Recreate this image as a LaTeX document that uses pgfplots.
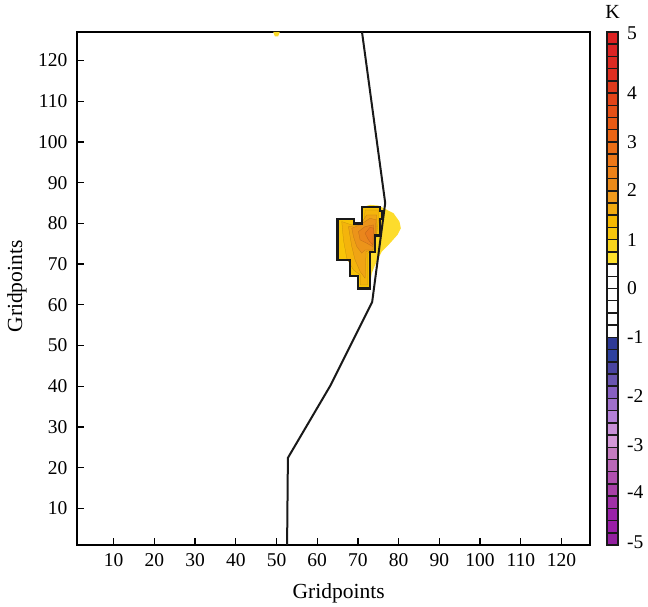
\documentclass[border=0pt]{standalone}
\usepackage{pgfplots}
\usepackage{fontspec}
\setmainfont{Liberation Serif}
\pgfplotsset{compat=1.18}
\definecolor{lva}{HTML}{FDDC2C}
\definecolor{lvb}{HTML}{F8C408}
\definecolor{lvc}{HTML}{F4B40C}
\definecolor{lvd}{HTML}{F0A414}
\definecolor{lve}{HTML}{EC941A}
\definecolor{lvf}{HTML}{EA861C}
\definecolor{lvg}{HTML}{E97C1C}
\definecolor{cbA}{HTML}{DD2222}\definecolor{cbB}{HTML}{DD2424}\definecolor{cbC}{HTML}{DD2A22}\definecolor{cbD}{HTML}{DE2E20}
\definecolor{cbE}{HTML}{E03A1C}\definecolor{cbF}{HTML}{E24418}\definecolor{cbG}{HTML}{E55016}\definecolor{cbH}{HTML}{E85A14}
\definecolor{cbI}{HTML}{EA6414}\definecolor{cbJ}{HTML}{EC6E16}\definecolor{cbK}{HTML}{EE7818}\definecolor{cbL}{HTML}{EE8218}
\definecolor{cbM}{HTML}{EA8A1A}\definecolor{cbN}{HTML}{F09A1C}\definecolor{cbO}{HTML}{F2AA10}\definecolor{cbP}{HTML}{F6B800}
\definecolor{cbQ}{HTML}{F8C60C}\definecolor{cbR}{HTML}{F8D41C}\definecolor{cbS}{HTML}{FDE02C}
\definecolor{cdA}{HTML}{2E3A96}\definecolor{cdB}{HTML}{2E419E}\definecolor{cdC}{HTML}{4A44A0}\definecolor{cdD}{HTML}{6A55B0}
\definecolor{cdE}{HTML}{8860C2}\definecolor{cdF}{HTML}{A070CC}\definecolor{cdG}{HTML}{B480D8}\definecolor{cdH}{HTML}{C890D8}
\definecolor{cdI}{HTML}{D498D8}\definecolor{cdJ}{HTML}{C47CC0}\definecolor{cdK}{HTML}{BA68B8}\definecolor{cdL}{HTML}{B050B0}
\definecolor{cdM}{HTML}{A840A8}\definecolor{cdN}{HTML}{A030A8}\definecolor{cdO}{HTML}{9A22A8}\definecolor{cdP}{HTML}{9A1EA8}\definecolor{cdQ}{HTML}{9420A0}
\newcommand{\cell}[3]{\addplot[fill=#3,draw=black!90,line width=1.5pt] coordinates {(0,#1)(1,#1)(1,#2)(0,#2)} --cycle;}
\begin{document}
\begin{tikzpicture}[x=1pt,y=1pt]
\path[use as bounding box] (0,0) rectangle (648pt,607pt);
\begin{axis}[
  at={(77pt,62pt)},anchor=south west,
  scale only axis,width=513pt,height=513pt,
  xmin=1,xmax=127,ymin=1,ymax=127,
  xtick={10,20,...,120},ytick={10,20,...,120},
  tick align=inside,xtick pos=bottom,ytick pos=left,
  major tick length=7pt,
  axis line style={line width=1.6pt},
  tick style={line width=1.4pt,black},
  /pgf/number format/assume math mode=true,
  tick label style={font=\fontsize{19.5}{21}\selectfont},
  label style={font=\fontsize{21.5}{24}\selectfont},
  xticklabel style={yshift=-5pt},
  yticklabel style={xshift=-6pt},
  xlabel={Gridpoints},ylabel={Gridpoints},
  xlabel style={at={(axis description cs:0.51,0)},anchor=center,yshift=-48pt},
  ylabel style={at={(axis description cs:0,0.504)},anchor=center,rotate=0,yshift=60pt},
]
% small patch at the top
\addplot[fill=lva,draw=none] coordinates {(49.2,127)(50.8,127)(50.4,125.9)(49.6,125.9)} --cycle;
% outer yellow area
\addplot[fill=lva,draw=none] coordinates {(70.94,83.96)(72.99,84.53)(75.04,84.37)(76.68,83.55)(78.73,82.49)(80.2,80.44)(80.53,78.8)(79.7,77.16)(77.5,74.7)(75.86,73.07)(75.04,71.43)(74.22,69.79)(73.4,67.75)(72.83,64.06)(70.5,67.75)} --cycle;
% significant region filled, then nested contours
\addplot[fill=lvb,draw=none] coordinates {(65,81)(69,81)(69,80)(71,80)(71,84)(75.4,84)(75.4,83)(76,83)(76,81)(75.4,81)(75.4,77)(74.2,77)(74.2,73)(73,73)(73,64)(70,64)(70,67)(68,67)(68,71)(65,71)} --cycle;
\addplot[fill=lvc,draw=lvc!80!black,line width=0.25pt] coordinates {(66.03,80.44)(68.49,79.62)(71.5,79.7)(71.76,83.3)(75.04,83.3)(75.04,80.85)(74.63,77.57)(73.81,73.48)(72.34,72.66)(72.34,64.88)(70.54,64.88)(70.54,67.34)(68.9,68.56)(67.26,71.43)(66.44,75.94)} --cycle;
\addplot[fill=lvd,draw=lvd!80!black,line width=0.25pt] coordinates {(67.67,79.21)(70.54,79.62)(72.17,82.08)(74.63,82.08)(74.47,77.57)(73.4,73.48)(72.01,73.07)(71.76,66.52)(70.54,68.16)(69.3,71.02)(68.49,74.3)} --cycle;
\addplot[fill=lve,draw=lve!80!black,line width=0.25pt] coordinates {(68.49,78.8)(70.54,79.62)(72.99,81.26)(74.47,80.85)(74.22,77.57)(73.65,73.48)(71.76,73.48)(70.94,72.66)(69.72,74.3)(68.9,76.75)} --cycle;
\addplot[fill=lvf,draw=lvf!80!black,line width=0.25pt] coordinates {(70.13,77.98)(71.76,79.21)(73.81,79.62)(73.97,77.57)(73.65,74.3)(72.17,75.12)(70.54,75.94)} --cycle;
\addplot[fill=lvg,draw=lvg!80!black,line width=0.25pt] coordinates {(71.76,77.57)(72.99,79.05)(73.81,78.8)(73.65,74.71)(72.58,75.94)} --cycle;
% boundary of the marked region
\addplot[draw=black!90,line width=2.3pt] coordinates {(65,81)(69,81)(69,80)(71,80)(71,84)(75.4,84)(75.4,83)(76,83)(76,81)(75.4,81)(75.4,77)(74.2,77)(74.2,73)(73,73)(73,64)(70,64)(70,67)(68,67)(68,71)(65,71)} --cycle;
% line
\addplot[draw=black!90,line width=2pt] coordinates {(52.6,1)(52.8,22.4)(63.2,40.1)(73.5,60.7)(76.7,85)(71,127)};
\end{axis}
\begin{axis}[
  at={(607pt,62pt)},anchor=south west,
  scale only axis,width=11pt,height=513pt,
  xmin=0,xmax=1,ymin=0,ymax=42,
  xtick=\empty,
  ytick={41.9,37,33,29.1,25,21,17,12.2,8.2,4.3,0.25},
  yticklabels={5,4,3,2,1,0,-1,-2,-3,-4,-5},
  ytick pos=right,major tick length=0pt,
  axis line style={line width=1.5pt},
  /pgf/number format/assume math mode=true,
  yticklabel style={font=\fontsize{19.5}{21}\selectfont,anchor=west,xshift=5.5pt},
  clip=false,
]
\cell{41}{42}{cbA}\cell{40}{41}{cbB}\cell{39}{40}{cbC}\cell{38}{39}{cbD}\cell{37}{38}{cbE}
\cell{36}{37}{cbF}\cell{35}{36}{cbG}\cell{34}{35}{cbH}\cell{33}{34}{cbI}\cell{32}{33}{cbJ}
\cell{31}{32}{cbK}\cell{30}{31}{cbL}\cell{29}{30}{cbM}\cell{28}{29}{cbN}\cell{27}{28}{cbO}
\cell{26}{27}{cbP}\cell{25}{26}{cbQ}\cell{24}{25}{cbR}\cell{23}{24}{cbS}
\cell{22}{23}{white}\cell{21}{22}{white}\cell{20}{21}{white}\cell{19}{20}{white}\cell{18}{19}{white}\cell{17}{18}{white}
\cell{16}{17}{cdA}\cell{15}{16}{cdB}\cell{14}{15}{cdC}\cell{13}{14}{cdD}\cell{12}{13}{cdE}\cell{11}{12}{cdF}
\cell{10}{11}{cdG}\cell{9}{10}{cdH}\cell{8}{9}{cdI}\cell{7}{8}{cdJ}\cell{6}{7}{cdK}\cell{5}{6}{cdL}
\cell{4}{5}{cdM}\cell{3}{4}{cdN}\cell{2}{3}{cdO}\cell{1}{2}{cdP}\cell{0}{1}{cdQ}
\node[font=\fontsize{20}{22}\selectfont] at (axis description cs:0.5,1.04) {K};
\end{axis}
\end{tikzpicture}
\end{document}
